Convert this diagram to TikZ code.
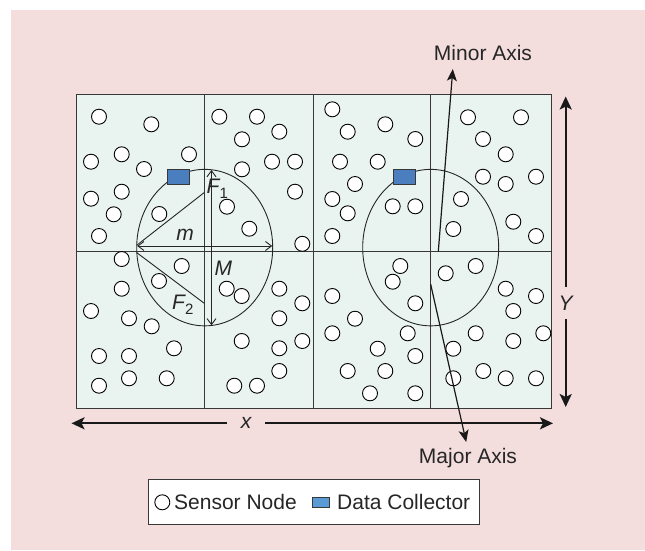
\documentclass[tikz,border=0pt]{standalone}
\usepackage{fontspec}
\setmainfont{Liberation Sans}
\usetikzlibrary{arrows.meta,shapes.geometric}
\definecolor{bgpink}{HTML}{F4DDDD}
\definecolor{cellfill}{HTML}{E9F4F0}
\definecolor{collector}{HTML}{4A7EBF}
\definecolor{legendblue}{HTML}{5B9BD5}
\definecolor{linegray}{HTML}{383838}

\begin{document}
\begin{tikzpicture}[x=1pt,y=-1pt,
  sensor/.style={circle,draw=black,fill=white,line width=0.9pt,minimum size=15pt,inner sep=0pt},
  collectorbox/.style={rectangle,draw=linegray,fill=collector,line width=1pt,minimum width=22pt,minimum height=14.5pt,inner sep=0pt},
  zone/.style={ellipse,draw=black!85,line width=0.9pt,minimum width=136pt,minimum height=156.5pt,inner sep=0pt},
  gridline/.style={draw=linegray,line width=1pt},
  lbl/.style={font=\fontsize{21}{24}\selectfont,text=black!85,inner sep=0pt},
  mathlbl/.style={font=\fontsize{21}{24}\selectfont\itshape,text=black!85,inner sep=0pt},
  thickarrow/.style={line width=2.2pt,draw=black!90,-{Stealth[length=13pt,width=12pt,inset=3pt]}},
  axisarrow/.style={line width=1.2pt,draw=black!90,-{Stealth[length=12pt,width=10pt,inset=3pt]}},
  dimarrow/.style={line width=0.9pt,draw=black!85,{Straight Barb[length=6pt,width=9pt]}-{Straight Barb[length=6pt,width=9pt]}},
  thinline/.style={line width=0.9pt,draw=black!85}
]
% canvas
\useasboundingbox (0,0) rectangle (645,550);
\fill[white] (0,0) rectangle (645,550);
\fill[bgpink] (11,10) rectangle (645,550);

% deployment field split into eight cells
\fill[cellfill] (76,94.5) rectangle (551,408);
\draw[gridline] (76,94.5) rectangle (551,408);
\foreach \gx in {204.5,313.5,430.5}
  \draw[gridline] (\gx,94.5) -- (\gx,408);
\draw[gridline] (76,251.5) -- (551,251.5);

% elliptical coverage zones
\node[zone] (zoneL) at (204.7,247.6) {};
\node[zone] (zoneR) at (430.7,247.6) {};

% focal lines and axis dimensions of the left zone
\coordinate (vL1) at (136.7,245.3);
\coordinate (vL2) at (136.7,252.6);
\coordinate (foc1) at (204.3,192.5);
\coordinate (foc2) at (204.3,303.3);
\draw[thinline] (vL1) -- (foc1);
\draw[thinline] (vL2) -- (foc2);
\coordinate (mL) at (137.2,246);
\coordinate (mR) at (272.2,246);
\coordinate (MT) at (211.5,170);
\coordinate (MB) at (211.5,325.3);
\draw[dimarrow] (mL) -- (mR);
\draw[dimarrow] (MT) -- (MB);

% sensor nodes
\foreach \p [count=\i] in {
  (99,116.7),(151.3,124.3),(219.3,116.7),(257,116.7),(242,139.3),(279.3,131.7),
  (91,161.7),(121.7,154.3),(144,169),(189,154.3),(272,161.7),(295,161.7),(242,169.3),
  (91,198.7),(121.7,191.7),(113.7,214.3),(159.3,214),(295,191.7),(227,206.7),
  (249.3,228.7),(99,236),(302.3,243.8),
  (121.7,259),(181.7,266),(159,281),(121.7,288.7),(226.7,288.7),(241.7,296),
  (279.3,288.7),(302.3,303.3),(91,311),(129,318.3),(151.7,326.3),(279.3,318.3),
  (241.7,341),(279.3,348.3),(302.3,341),(174,348.3),(99,356),(129,356),(279.3,371),
  (99,385.7),(129,378.3),(166.7,378.3),(234.3,385.7),(257,385.7),
  (332.3,109.3),(347.7,131.7),(385.3,124.3),(415.3,139),(340,161.7),(377.7,161.7),
  (355,184),(332.3,199),(347.7,213.3),(392.7,206.3),(415.3,206.3),(332.3,236),
  (468,117.3),(521,117.3),(483,139),(505.7,154.3),(483,176.7),(505.7,184),
  (536,176.7),(461,199),(513.3,221.7),(453.3,229),(536,236),
  (400.3,266),(392.7,281.7),(415.3,303.3),(332.3,296),(355,318.7),(332.3,333.3),
  (407.7,333.3),(377.7,348.7),(415.3,356),(347.7,371),(385.3,371),(370,393.3),
  (415.3,393.3),(445.7,273.3),(475.7,266),(505.7,288.7),(536,296),(513.3,311),
  (475.7,333.3),(513.3,341),(543.3,333.3),(453.3,348.7),(453.3,378.3),(483.3,371),
  (505.7,378.3),(536,378.3)}
  \node[sensor] (s\i) at \p {};

% data collectors
\node[collectorbox] (dcL) at (178,176.8) {};
\node[collectorbox] (dcR) at (404.2,176.8) {};

% labels of the left zone
\node[mathlbl,anchor=base west] (labF1) at (206.5,193.3) {F\raisebox{-5pt}{\fontsize{15}{15}\selectfont\upshape 1}};
\node[mathlbl,anchor=base west] (labF2) at (172,309) {F\raisebox{-5pt}{\fontsize{15}{15}\selectfont\upshape 2}};
\node[mathlbl,anchor=base] (labm) at (185,240) {m};
\node[mathlbl,anchor=base] (labM) at (223.3,275) {M};

% minor and major axis pointers
\node[lbl] (minorLab) at (483,53) {Minor Axis};
\node[lbl] (majorLab) at (468,458.5) {Major Axis};
\coordinate (minorFrom) at (438.3,251.5);
\coordinate (minorTip) at (452.8,69);
\coordinate (majorFrom) at (430.6,284);
\coordinate (majorTip) at (466.2,442);
\draw[axisarrow] (minorFrom) -- (minorTip);
\draw[axisarrow] (majorFrom) -- (majorTip);

% field extent
\node[mathlbl,minimum height=32pt] (labY) at (565.7,303) {Y};
\coordinate (yTop) at (565.7,96.5);
\coordinate (yBot) at (565.7,407);
\draw[thickarrow] (labY.north) -- (yTop);
\draw[thickarrow] (labY.south) -- (yBot);
\node[mathlbl,minimum width=38pt] (labX) at (246,423.3) {x};
\coordinate (xLeft) at (71.5,423.3);
\coordinate (xRight) at (553,423.3);
\draw[thickarrow] (labX.west) -- (xLeft);
\draw[thickarrow] (labX.east) -- (xRight);

% legend
\node[draw=linegray,fill=white,line width=1pt,minimum width=331pt,minimum height=45pt,inner sep=0pt] (legend) at (313.6,501.7) {};
\node[sensor] (legSensor) at (162.3,502.3) {};
\node[lbl,anchor=west] (legSensorTxt) at (174,502) {Sensor Node};
\node[rectangle,draw=linegray,fill=legendblue,line width=0.9pt,minimum width=16.5pt,minimum height=10pt,inner sep=0pt] (legDC) at (321,502.3) {};
\node[lbl,anchor=west] (legDCTxt) at (337,502) {Data Collector};
\end{tikzpicture}
\end{document}
